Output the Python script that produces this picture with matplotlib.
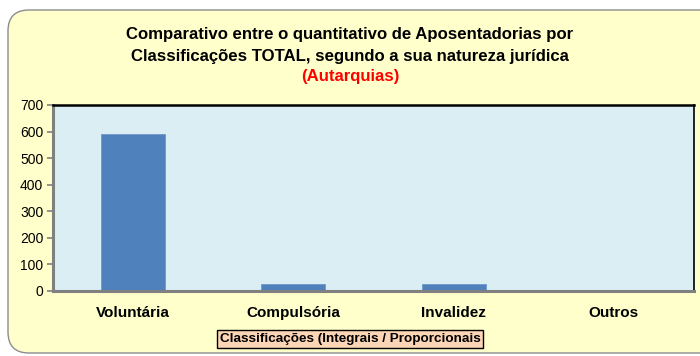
import matplotlib
matplotlib.use('Agg')
import matplotlib.pyplot as plt
from matplotlib.patches import FancyBboxPatch

plt.rcParams['font.family'] = ['Liberation Sans', 'DejaVu Sans']

categorias = ['Voluntária', 'Compulsória', 'Invalidez', 'Outros']
valores = [589, 26, 26, 0]
yticks = [0, 100, 200, 300, 400, 500, 600, 700]

W, H = 700, 356
fig = plt.figure(figsize=(7.0, 3.56), dpi=100)
fig.patch.set_facecolor('white')

# outer rounded frame
frame = FancyBboxPatch((8/W, 3/H), 720/W, (346-3)/H,
                       boxstyle='round,pad=0,rounding_size=0.03',
                       transform=fig.transFigure, facecolor='#FFFFCC',
                       edgecolor='#8C8C8C', linewidth=1.0, zorder=-5,
                       mutation_aspect=W/H)
fig.patches.append(frame)

ax = fig.add_axes([53/W, (H-291)/H, (694-53)/W, (291-105)/H])
ax.set_zorder(2)
ax.set_facecolor('#DAEEF3')
x = range(len(categorias))
ax.bar(x, valores, width=0.4, color='#4F81BD', edgecolor='#6F97C9', linewidth=0.6, zorder=2)
ax.set_xlim(-0.5, len(categorias) - 0.5)
ax.set_ylim(0, 700)
ax.set_yticks(yticks)
ax.set_yticklabels([str(v) for v in yticks], fontsize=10)
ax.set_xticks(list(x))
ax.set_xticklabels(categorias, fontsize=11, fontweight='bold')
ax.tick_params(axis='x', length=0, pad=11)
ax.tick_params(axis='y', length=4, width=1.2, color='#808080', pad=3)
ax.spines['left'].set_color('#808080')
ax.spines['left'].set_linewidth(2.2)
ax.spines['bottom'].set_color('#808080')
ax.spines['bottom'].set_linewidth(2.2)
ax.spines['top'].set_color('black')
ax.spines['top'].set_linewidth(1.8)
ax.spines['right'].set_color('black')
ax.spines['right'].set_linewidth(1.2)

fig.text(350/W, 1 - 35/H, 'Comparativo entre o quantitativo de Aposentadorias por',
         ha='center', va='center', fontsize=12.1, fontweight='bold')
fig.text(350/W, 1 - 56/H, 'Classificações TOTAL, segundo a sua natureza jurídica',
         ha='center', va='center', fontsize=12.1, fontweight='bold')
fig.text(350/W, 1 - 77/H, '(Autarquias)', ha='center', va='center',
         fontsize=12.1, fontweight='bold', color='#FF0000')

fig.text(350/W, 1 - 339/H, 'Classificações (Integrais / Proporcionais',
         ha='center', va='center', fontsize=9.7, fontweight='bold',
         bbox=dict(boxstyle='square,pad=0.2', facecolor='#FBD5B5',
                   edgecolor='black', linewidth=1.0))

fig.savefig('out.png', dpi=100)
